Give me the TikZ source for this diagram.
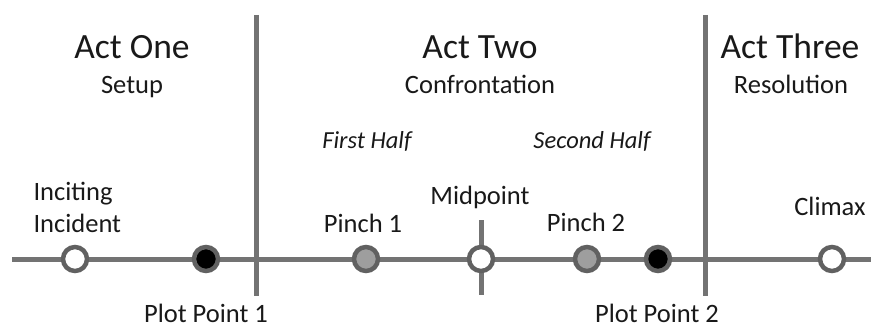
\documentclass[tikz,border=0pt]{standalone}
\usepackage{fontspec}
\setmainfont{Carlito}
\begin{document}
\begin{tikzpicture}[x=1pt,y=-1pt,
  axis/.style={draw=black!55,line width=5pt},
  beat/.style={circle,draw=black!62,line width=4.5pt,minimum size=24pt,inner sep=0pt},
  openbeat/.style={beat,fill=white},
  turnbeat/.style={beat,fill=black},
  pinchbeat/.style={beat,fill=black!38},
  title/.style={anchor=base,text=black!90,font=\fontsize{35.5}{40}\selectfont},
  sub/.style={anchor=base,text=black!90,font=\fontsize{26.5}{30}\selectfont},
  half/.style={anchor=base,text=black!90,font=\fontsize{24.5}{28}\selectfont\itshape},
  lbl/.style={anchor=base,text=black!90,font=\fontsize{26.5}{30}\selectfont}]
\useasboundingbox (0,0) rectangle (871,329);

% act dividers, midpoint tick and the timeline
\coordinate (d1t) at (256,15);  \coordinate (d1b) at (256,296);
\coordinate (d2t) at (705,15);  \coordinate (d2b) at (705,296);
\coordinate (mt) at (481,220);  \coordinate (mb) at (481,295);
\coordinate (ls) at (12,259);   \coordinate (le) at (871,259);
\draw[axis] (d1t) -- (d1b);
\draw[axis] (d2t) -- (d2b);
\draw[axis] (mt) -- (mb);
\draw[axis] (ls) -- (le);

% story beats on the timeline
\node[openbeat]  (inc)  at (75,259)  {};
\node[turnbeat]  (pp1)  at (206,259) {};
\node[pinchbeat] (pin1) at (366,259) {};
\node[openbeat]  (mid)  at (481,259) {};
\node[pinchbeat] (pin2) at (587,259) {};
\node[turnbeat]  (pp2)  at (658,259) {};
\node[openbeat]  (cli)  at (832,259) {};

% act headings
\node[title] (a1) at (132,59) {Act One};
\node[sub]   (s1) at (132,94) {Setup};
\node[title] (a2) at (480,59) {Act Two};
\node[sub]   (s2) at (480,94) {Confrontation};
\node[title] (a3) at (790,59) {Act Three};
\node[sub]   (s3) at (791,94) {Resolution};
\node[half]  (h1) at (367,148) {First Half};
\node[half]  (h2) at (592,148) {Second Half};

% beat labels
\node[lbl,anchor=base west] (l1) at (30,200) {Inciting};
\node[lbl,anchor=base west] (l2) at (30,232) {Incident};
\node[lbl] (lp1) at (363,232) {Pinch 1};
\node[lbl] (lm)  at (480,204) {Midpoint};
\node[lbl] (lp2) at (586,231) {Pinch 2};
\node[lbl] (lc)  at (830,215) {Climax};
\node[lbl,inner sep=1pt] (lpp1) at (206,322) {Plot Point 1};
\node[lbl,inner sep=1pt] (lpp2) at (657,322) {Plot Point 2};
\end{tikzpicture}
\end{document}
